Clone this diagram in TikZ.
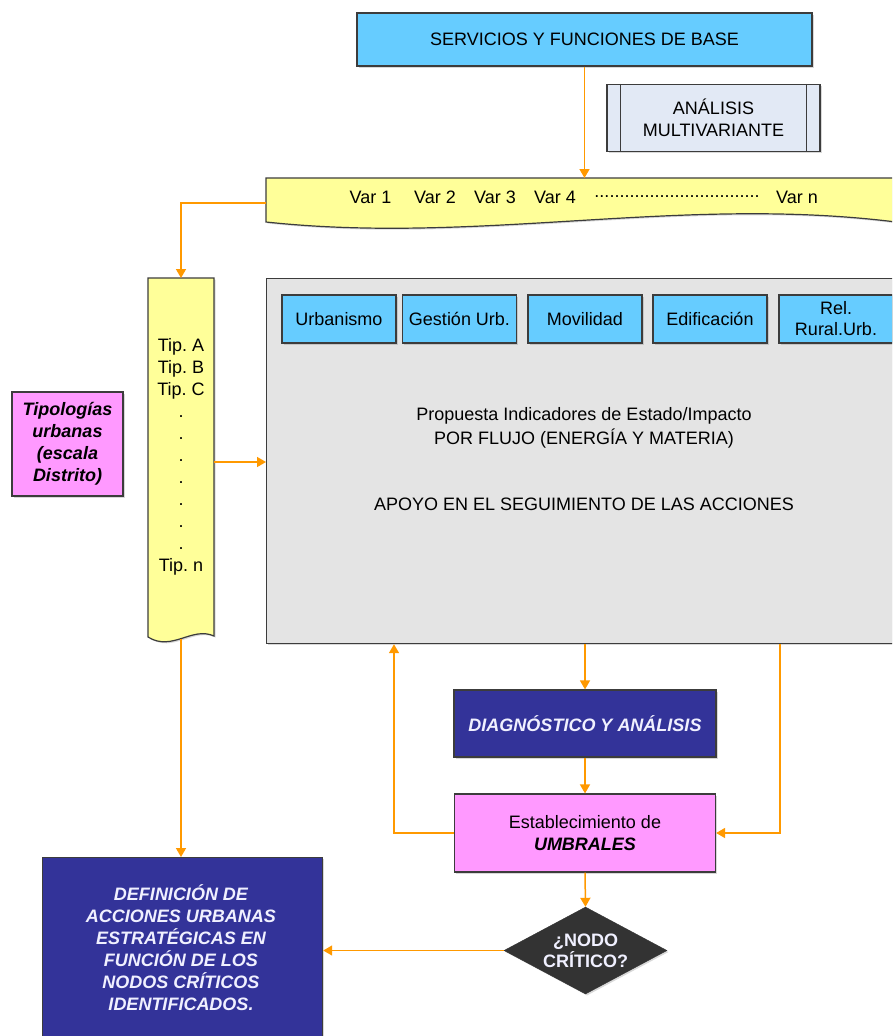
\documentclass[tikz,border=0pt]{standalone}
\usepackage{fontspec}
\setmainfont{Liberation Sans}
\usetikzlibrary{arrows.meta,shapes.geometric,shadows}
\frenchspacing

\definecolor{flowor}{RGB}{255,153,0}
\definecolor{skyfill}{RGB}{102,204,255}
\definecolor{palefill}{RGB}{226,233,245}
\definecolor{creamfill}{RGB}{255,255,153}
\definecolor{pinkfill}{RGB}{255,153,255}
\definecolor{navyfill}{RGB}{51,51,153}
\definecolor{panelfill}{RGB}{228,228,228}
\definecolor{edge}{RGB}{60,60,60}
\definecolor{darkfill}{RGB}{51,51,51}
\definecolor{softwhite}{RGB}{240,240,255}

\begin{document}
\begin{tikzpicture}[x=1pt,y=-1pt,
  txt/.style={font=\fontsize{18}{22}\selectfont},
  shade/.style={drop shadow={shadow xshift=1.5pt,shadow yshift=-1.5pt,opacity=0.3}},
  box/.style={draw=edge,line width=1.2pt,inner sep=0pt,align=center,txt,shade},
  hilite/.style={font=\fontsize{18}{22}\selectfont\bfseries\itshape},
  flow/.style={draw=flowor,line width=1.5pt,-{Triangle[length=9pt,width=10pt]}},
]
\clip (0,0) rectangle (892,1036);
\fill[white] (0,0) rectangle (892,1036);

% top: base services and multivariate analysis
\node[box,fill=skyfill,minimum width=455,minimum height=53] (base) at (584.5,39.5)
  {SERVICIOS Y FUNCIONES DE BASE};
\node[box,fill=palefill,minimum width=213,minimum height=67] (multi) at (713.5,118)
  {ANÁLISIS\\MULTIVARIANTE};
\draw[edge,line width=1.2pt] ([xshift=14pt]multi.north west) -- ([xshift=14pt]multi.south west);
\draw[edge,line width=1.2pt] ([xshift=-14pt]multi.north east) -- ([xshift=-14pt]multi.south east);

% variables strip (document shape)
\draw[edge,line width=1.2pt,fill=creamfill,shade]
  (266,178) -- (896,178) -- (896,222)
  .. controls (680,195) and (480,245) .. (266,222) -- cycle;
\coordinate (varT) at (584.5,178);
\coordinate (varL) at (266,203);
\node[txt] (v1) at (370.5,197) {Var 1};
\node[txt] (v2) at (435,197) {Var 2};
\node[txt] (v3) at (495,197) {Var 3};
\node[txt] (v4) at (555,197) {Var 4};
\node[txt] (vdots) at (677,197) {.................................};
\node[txt] (vn) at (797,197) {Var n};

% typologies strip (document shape)
\draw[edge,line width=1.2pt,fill=creamfill,shade]
  (148,278) -- (214,278) -- (214,636)
  .. controls (192,626) and (172,652) .. (148,637) -- cycle;
\coordinate (tipT) at (181,278);
\coordinate (tipR) at (214,462);
\coordinate (tipB) at (181,639);
\node[txt,align=center] (tiplist) at (181,457)
  {Tip. A\\Tip. B\\Tip. C\\.\\.\\.\\.\\.\\.\\.\\Tip. n};

\node[box,fill=pinkfill,minimum width=111,minimum height=104,hilite] (tipo) at (67.5,444)
  {Tipologías\\urbanas\\(escala\\Distrito)};

% indicator panel
\node[box,fill=panelfill,minimum width=640,minimum height=365,anchor=north west] (panel) at (266,278) {};
\node[box,fill=skyfill,minimum width=114,minimum height=48] (urb) at (339,319) {Urbanismo};
\node[box,fill=skyfill,minimum width=114,minimum height=48] (gest) at (459.5,319) {Gestión Urb.};
\node[box,fill=skyfill,minimum width=114,minimum height=48] (mov) at (585,319) {Movilidad};
\node[box,fill=skyfill,minimum width=114,minimum height=48] (edif) at (710,319) {Edificación};
\node[box,fill=skyfill,minimum width=114,minimum height=48,font=\fontsize{18}{21}\selectfont] (rel) at (836,319)
  {Rel.\\Rural.Urb.};
\node[txt,align=center,font=\fontsize{18}{24}\selectfont] (prop) at (584,428)
  {Propuesta Indicadores de Estado/Impacto\\POR FLUJO (ENERGÍA Y MATERIA)};
\node[txt] (apoyo) at (584,504) {APOYO EN EL SEGUIMIENTO DE LAS ACCIONES};

% diagnosis, thresholds, decision
\node[box,fill=navyfill,minimum width=262,minimum height=67,hilite,text=softwhite] (diag) at (585,723.5)
  {DIAGNÓSTICO Y ANÁLISIS};
\node[box,fill=pinkfill,minimum width=261,minimum height=78] (umb) at (585,833)
  {Establecimiento de\\\textbf{\textit{UMBRALES}}};
\node[diamond,draw=darkfill,fill=darkfill,minimum width=163,minimum height=87,inner sep=0pt,shade] (crit) at (585.5,950.5) {};
\node[font=\fontsize{18}{21}\selectfont\bfseries,text=softwhite,align=center] (critlbl) at (crit) {¿NODO\\CRÍTICO?};

% strategic actions
\node[box,fill=navyfill,minimum width=280,minimum height=200,anchor=north west] (def) at (42,857) {};
\node[hilite,text=softwhite,align=center] (deftxt) at (181,948)
  {DEFINICIÓN DE\\ACCIONES URBANAS\\ESTRATÉGICAS EN\\FUNCIÓN DE LOS\\NODOS CRÍTICOS\\IDENTIFICADOS.};

% connectors
\coordinate (retL) at (394,0);
\coordinate (retR) at (780,0);
\draw[flow] (base.south) -- (varT);
\draw[flow] (varL) -| (tipT);
\draw[flow] (tipR) -- (tipR -| panel.west);
\draw[flow] (panel.south -| diag.north) -- (diag.north);
\draw[flow] (diag.south) -- (umb.north);
\draw[flow] (umb.south) -- (crit.north);
\draw[flow] (umb.west) -| (retL |- panel.south);
\draw[flow] (retR |- panel.south) |- (umb.east);
\draw[flow] (crit.west) -- (crit.west -| def.east);
\draw[flow] (tipB) -- (tipB |- def.north);
\end{tikzpicture}
\end{document}
